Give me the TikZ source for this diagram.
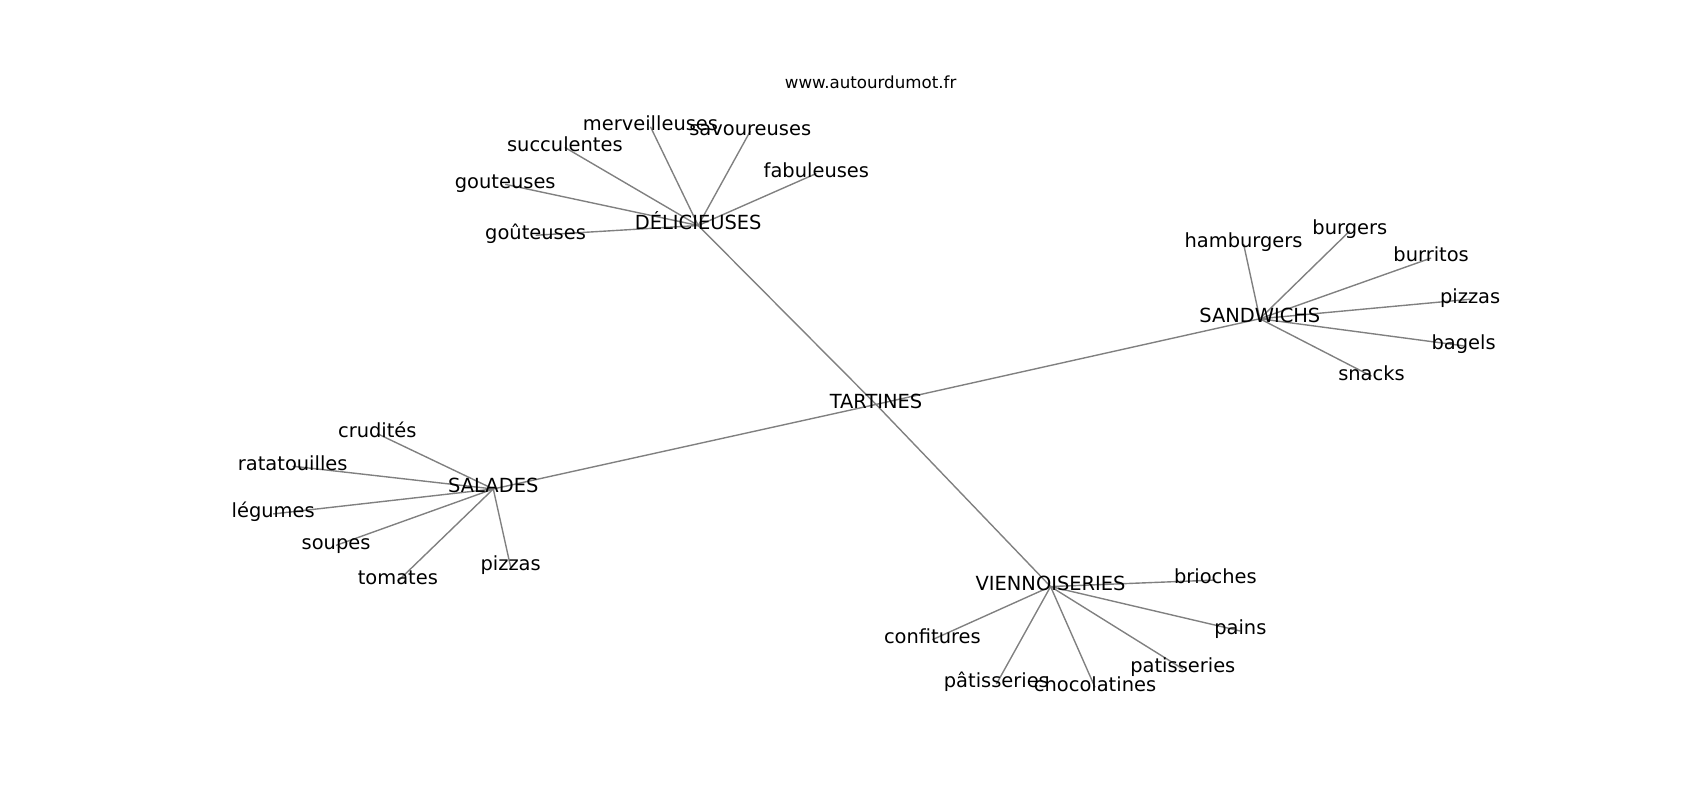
\documentclass[tikz,border=0pt]{standalone}
\usepackage{fontspec}
\setmainfont{DejaVu Sans}
\usetikzlibrary{backgrounds}
\tikzset{
    %Define style for words
    mot/.style={
           inner sep=0pt,
           text height=0.76em,
           text depth=0.21em,
           font=\fontsize{14}{17}\selectfont},
    %Define style for links
    lien/.style={
           draw=black!50,
           line width=1pt}
}

\begin{document}
\begin{tikzpicture}[x=0.7806pt,y=-0.7806pt]
 \useasboundingbox (0,0) rectangle (1568,738);
 %Title
 \node[font=\fontsize{12}{14}\selectfont] (titre) at (803,76) {www.autourdumot.fr};

 %Centre
 \node[mot] (tart) at (808,373) {TARTINES};
 \node[mot] (deli) at (644,208) {DÉLICIEUSES};
 \node[mot] (sand) at (1162,294) {SANDWICHS};
 \node[mot] (sal) at (455,451) {SALADES};
 \node[mot] (vien) at (969,541) {VIENNOISERIES};

 %Delicieuses
 \node[mot] (merv) at (600,117) {merveilleuses};
 \node[mot] (sav) at (692,121) {savoureuses};
 \node[mot] (succ) at (521,136) {succulentes};
 \node[mot] (fab) at (753,160) {fabuleuses};
 \node[mot] (gou) at (466,170) {gouteuses};
 \node[mot] (gou2) at (494,217) {goûteuses};

 %Sandwichs
 \node[mot] (ham) at (1147,225) {hamburgers};
 \node[mot] (burg) at (1245,213) {burgers};
 \node[mot] (burr) at (1320,238) {burritos};
 \node[mot] (piz) at (1356,276) {pizzas};
 \node[mot] (bag) at (1350,319) {bagels};
 \node[mot] (snk) at (1265,347) {snacks};

 %Salades
 \node[mot] (cru) at (348,400) {crudités};
 \node[mot] (rat) at (270,430) {ratatouilles};
 \node[mot] (leg) at (252,474) {légumes};
 \node[mot] (sou) at (310,503) {soupes};
 \node[mot] (tom) at (367,536) {tomates};
 \node[mot] (piz2) at (471,523) {pizzas};

 %Viennoiseries
 \node[mot] (bri) at (1121,535) {brioches};
 \node[mot] (pai) at (1144,582) {pains};
 \node[mot] (conf) at (860,590) {confitures};
 \node[mot] (pat) at (1091,617) {patisseries};
 \node[mot] (pat2) at (919,631) {pâtisseries};
 \node[mot] (choc) at (1010,634) {chocolatines};

 %Links
 \begin{pgfonlayer}{background}
 \draw[lien] (tart.center) -- (deli.center);
 \draw[lien] (tart.center) -- (sand.center);
 \draw[lien] (tart.center) -- (sal.center);
 \draw[lien] (tart.center) -- (vien.center);

 \draw[lien] (deli.center) -- (merv.center);
 \draw[lien] (deli.center) -- (sav.center);
 \draw[lien] (deli.center) -- (succ.center);
 \draw[lien] (deli.center) -- (fab.center);
 \draw[lien] (deli.center) -- (gou.center);
 \draw[lien] (deli.center) -- (gou2.center);

 \draw[lien] (sand.center) -- (ham.center);
 \draw[lien] (sand.center) -- (burg.center);
 \draw[lien] (sand.center) -- (burr.center);
 \draw[lien] (sand.center) -- (piz.center);
 \draw[lien] (sand.center) -- (bag.center);
 \draw[lien] (sand.center) -- (snk.center);

 \draw[lien] (sal.center) -- (cru.center);
 \draw[lien] (sal.center) -- (rat.center);
 \draw[lien] (sal.center) -- (leg.center);
 \draw[lien] (sal.center) -- (sou.center);
 \draw[lien] (sal.center) -- (tom.center);
 \draw[lien] (sal.center) -- (piz2.center);

 \draw[lien] (vien.center) -- (bri.center);
 \draw[lien] (vien.center) -- (pai.center);
 \draw[lien] (vien.center) -- (conf.center);
 \draw[lien] (vien.center) -- (pat.center);
 \draw[lien] (vien.center) -- (pat2.center);
 \draw[lien] (vien.center) -- (choc.center);
 \end{pgfonlayer}
\end{tikzpicture}
\end{document}
